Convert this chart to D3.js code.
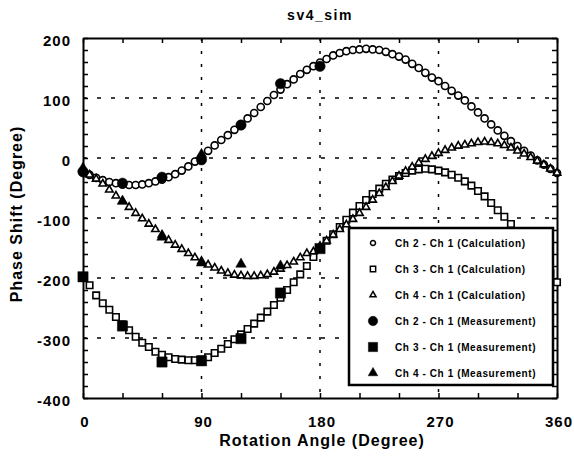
<!DOCTYPE html>
<html>
<head>
<meta charset="utf-8">
<script src="https://cdn.jsdelivr.net/npm/d3@7"></script>
<style>
  body { margin: 0; background: #fff; }
  text { font-family: "Liberation Sans", Arial, sans-serif; font-weight: bold; fill: #000; }
</style>
</head>
<body>
<script>
// calculated curves, read every 5 degrees
const calcAngles = [0, 5, 10, 15, 20, 25, 30, 35, 40, 45, 50, 55, 60, 65, 70, 75, 80, 85, 90,
  95, 100, 105, 110, 115, 120, 125, 130, 135, 140, 145, 150, 155, 160, 165, 170, 175, 180,
  185, 190, 195, 200, 205, 210, 215, 220, 225, 230, 235, 240, 245, 250, 255, 260, 265, 270,
  275, 280, 285, 290, 295, 300, 305, 310, 315, 320, 325, 330, 335, 340, 345, 350, 355, 360];

const ch2Calc = [-22, -28, -33, -37, -40, -42, -44, -45, -45, -44, -42, -39, -36, -32, -27, -21, -14, -6, 2,
  12, 21, 30, 38, 47, 56, 66, 75, 85, 95, 105, 114, 123, 131, 140, 147, 153, 159,
  165, 171, 175, 178, 180, 181, 182, 181, 180, 177, 173, 169, 164, 157, 150, 142, 134, 128,
  120, 112, 104, 96, 86, 76, 66, 56, 46, 37, 28, 20, 12, 4, -4, -11, -18, -25];

const ch3Calc = [-200, -212, -229, -242, -253, -265, -277, -287, -298, -308, -315, -323, -328, -332, -335, -336, -337, -337, -336,
  -332, -325, -318, -310, -302, -294, -285, -276, -266, -256, -245, -233, -220, -207, -194, -180, -165, -150,
  -138, -127, -115, -103, -91, -80, -70, -60, -51, -43, -36, -30, -25, -21, -19, -18, -19, -21,
  -24, -28, -33, -39, -46, -55, -64, -75, -87, -98, -110, -122, -135, -148, -162, -176, -192, -207];

const ch4Calc = [-20, -28, -35, -43, -53, -63, -72, -82, -92, -101, -110, -119, -128, -137, -145, -152, -159, -166, -172,
  -178, -183, -188, -192, -195, -196, -197, -197, -196, -194, -190, -185, -179, -173, -166, -159, -156, -147,
  -138, -128, -119, -111, -102, -92, -82, -70, -59, -49, -39, -30, -22, -15, -8, -2, 3, 8,
  13, 17, 20, 22, 24, 26, 27, 26, 24, 21, 17, 12, 7, 1, -5, -11, -18, -25];

// measurements
const measAngles = [0, 30, 60, 90, 120, 150, 180];
const ch2Meas = [-23, -42, -32, -3, 55, 124, 153];
const ch3Meas = [-198, -280, -340, -338, -301, -225, -151];
const ch4MeasAngles = [0, 30, 60, 90, 90, 120, 150];
const ch4Meas = [-17, -72, -132, 6, -175, -177, -180];

const legendLabels = [
  'Ch 2 - Ch 1 (Calculation)',
  'Ch 3 - Ch 1 (Calculation)',
  'Ch 4 - Ch 1 (Calculation)',
  'Ch 2 - Ch 1 (Measurement)',
  'Ch 3 - Ch 1 (Measurement)',
  'Ch 4 - Ch 1 (Measurement)'
];

const xTicks = [0, 90, 180, 270, 360];
const yTicks = [-400, -300, -200, -100, 0, 100, 200];

const width = 574, height = 460;
const margin = { top: 38, right: 17, bottom: 62, left: 83 };
const innerW = width - margin.left - margin.right;
const innerH = height - margin.top - margin.bottom;

const svg = d3.select('body').append('svg')
  .attr('width', width)
  .attr('height', height);

const plot = svg.append('g')
  .attr('transform', `translate(${margin.left},${margin.top})`);

const x = d3.scaleLinear().domain([0, 360]).range([0, innerW]);
const y = d3.scaleLinear().domain([-400, 200]).range([innerH, 0]);

// dashed grid
plot.append('g').selectAll('line')
  .data(xTicks.slice(1, -1))
  .enter().append('line')
    .attr('x1', d => x(d)).attr('x2', d => x(d))
    .attr('y1', 0).attr('y2', innerH)
    .attr('stroke', '#000').attr('stroke-width', 1.5)
    .attr('stroke-dasharray', '3,10');

plot.append('g').selectAll('line')
  .data(yTicks.slice(1, -1))
  .enter().append('line')
    .attr('x1', 0).attr('x2', innerW)
    .attr('y1', d => y(d)).attr('y2', d => y(d))
    .attr('stroke', '#000').attr('stroke-width', 1.5)
    .attr('stroke-dasharray', '4,10');

// frame with inward ticks on all sides
const tickFmt = () => '';
const axes = [
  [d3.axisBottom(x).tickValues(d3.range(0, 361, 30)), `translate(0,${innerH})`],
  [d3.axisTop(x).tickValues(d3.range(0, 361, 30)), 'translate(0,0)'],
  [d3.axisLeft(y).tickValues(d3.range(-400, 201, 20)), 'translate(0,0)'],
  [d3.axisRight(y).tickValues(d3.range(-400, 201, 20)), `translate(${innerW},0)`]
];
axes.forEach(([ax, tr]) => {
  const g = plot.append('g')
    .attr('transform', tr)
    .call(ax.tickSizeInner(-5).tickSizeOuter(0).tickFormat(tickFmt));
  g.select('.domain').attr('stroke', '#000').attr('stroke-width', 2);
  g.selectAll('.tick line').attr('stroke', '#000').attr('stroke-width', 1.5);
});

// tick labels
plot.append('g').selectAll('text')
  .data(xTicks)
  .enter().append('text')
    .attr('x', d => x(d) + 2)
    .attr('y', innerH + 29)
    .attr('text-anchor', 'middle')
    .style('font-size', '15px')
    .style('letter-spacing', '1px')
    .text(d => d);

plot.append('g').selectAll('text')
  .data(yTicks)
  .enter().append('text')
    .attr('x', -12)
    .attr('y', d => y(d) + 8)
    .attr('text-anchor', 'end')
    .style('font-size', '15px')
    .style('letter-spacing', '1px')
    .text(d => d);

// titles
svg.append('text')
  .attr('x', margin.left + innerW / 2)
  .attr('y', 20)
  .attr('text-anchor', 'middle')
  .style('font-size', '14px')
  .style('letter-spacing', '1.5px')
  .text('sv4_sim');

svg.append('text')
  .attr('x', margin.left + innerW / 2 + 2)
  .attr('y', 446)
  .attr('text-anchor', 'middle')
  .style('font-size', '16px')
  .style('letter-spacing', '1px')
  .text('Rotation Angle (Degree)');

svg.append('text')
  .attr('transform', `translate(22,${margin.top + innerH / 2 - 4}) rotate(-90)`)
  .attr('text-anchor', 'middle')
  .style('font-size', '16px')
  .style('letter-spacing', '1px')
  .text('Phase Shift (Degree)');

// markers
const sym = (type, size) => d3.symbol().type(type).size(size)();

function drawSeries(angles, values, type, size, filled) {
  plot.append('g').selectAll('path')
    .data(angles.map((a, i) => [a, values[i]]))
    .enter().append('path')
      .attr('transform', d => `translate(${x(d[0])},${y(d[1])})`)
      .attr('d', sym(type, size))
      .attr('fill', filled ? '#000' : '#fff')
      .attr('stroke', '#000')
      .attr('stroke-width', filled ? 0.5 : 1.6);
}

drawSeries(calcAngles, ch2Calc, d3.symbolCircle, 40, false);
drawSeries(calcAngles, ch3Calc, d3.symbolSquare, 42, false);
drawSeries(calcAngles, ch4Calc, d3.symbolTriangle, 24, false);
drawSeries(measAngles, ch2Meas, d3.symbolCircle, 85, true);
drawSeries(measAngles, ch3Meas, d3.symbolSquare, 105, true);
drawSeries(ch4MeasAngles, ch4Meas, d3.symbolTriangle, 48, true);

// legend
const legend = svg.append('g').attr('transform', 'translate(349,228)');
legend.append('rect')
  .attr('width', 204).attr('height', 157)
  .attr('fill', '#fff')
  .attr('stroke', '#000').attr('stroke-width', 2.5);

const legendSyms = [
  [d3.symbolCircle, 20, false],
  [d3.symbolSquare, 28, false],
  [d3.symbolTriangle, 16, false],
  [d3.symbolCircle, 70, true],
  [d3.symbolSquare, 85, true],
  [d3.symbolTriangle, 40, true]
];

legendLabels.forEach((label, i) => {
  const rowY = 15 + i * 26;
  const [type, size, filled] = legendSyms[i];
  legend.append('path')
    .attr('transform', `translate(24,${rowY})`)
    .attr('d', sym(type, size))
    .attr('fill', filled ? '#000' : '#fff')
    .attr('stroke', '#000')
    .attr('stroke-width', filled ? 0.5 : 1.5);
  legend.append('text')
    .attr('x', 46)
    .attr('y', rowY + 4)
    .style('font-size', '10px')
    .style('letter-spacing', '0.6px')
    .text(label);
});
</script>
</body>
</html>
